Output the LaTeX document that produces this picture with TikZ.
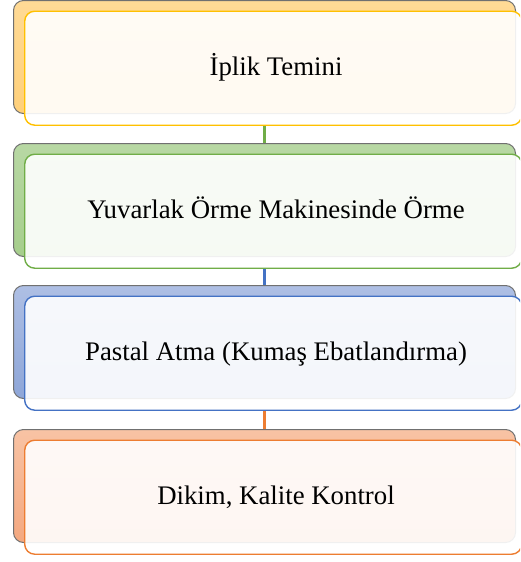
\documentclass[tikz,border=0pt]{standalone}
\usepackage{fontspec}
\setmainfont{Liberation Serif}

\definecolor{back edge}{RGB}{112,112,112}
\definecolor{yellow edge}{RGB}{255,192,0}
\definecolor{yellow top}{RGB}{255,218,150}
\definecolor{yellow bot}{RGB}{255,208,122}
\definecolor{green edge}{RGB}{112,173,71}
\definecolor{green top}{RGB}{184,216,164}
\definecolor{green bot}{RGB}{166,206,140}
\definecolor{blue edge}{RGB}{68,114,196}
\definecolor{blue top}{RGB}{174,191,228}
\definecolor{blue bot}{RGB}{142,166,216}
\definecolor{orange edge}{RGB}{237,125,49}
\definecolor{orange top}{RGB}{248,195,164}
\definecolor{orange bot}{RGB}{244,168,128}
\tikzset{
  backbox/.style={rectangle, rounded corners=10pt, draw=back edge, line width=1pt,
    minimum width=502pt, minimum height=113pt, anchor=north west, inner sep=0pt},
  frontbox/.style={rectangle, rounded corners=10pt, fill=white, fill opacity=0.9,
    line width=1.4pt, minimum width=497pt, minimum height=114pt, anchor=north west, inner sep=0pt},
  caption/.style={anchor=mid, font=\fontsize{26.8}{32}\selectfont, text=black},
  link/.style={line width=2.4pt}
  }

\begin{document}
\begin{tikzpicture}[x=1pt,y=-1pt]

  \path[use as bounding box, clip] (0,0) rectangle (520,562);

  \foreach \top/\i/\col/\txt in {0/1/yellow/{İplik Temini},
      143/2/green/{Yuvarlak Örme Makinesinde Örme},
      285/3/blue/{Pastal Atma (Kumaş Ebatlandırma)},
      429/4/orange/{Dikim, Kalite Kontrol}} {
    \node[backbox, top color=\col\space top, bottom color=\col\space bot] (back\i) at (13,\top) {};
    \node[frontbox, draw=\col\space edge] (front\i) at (24,\top+10.5) {};
    \node[caption] (text\i) at (276,\top+73.5) {\txt};
  }

  \foreach \a/\b/\col in {1/2/green, 2/3/blue, 3/4/orange} {
    \draw[link, draw=\col\space edge] (back\b.north) -- (back\b.north |- front\a.south);
  }

\end{tikzpicture}
\end{document}
